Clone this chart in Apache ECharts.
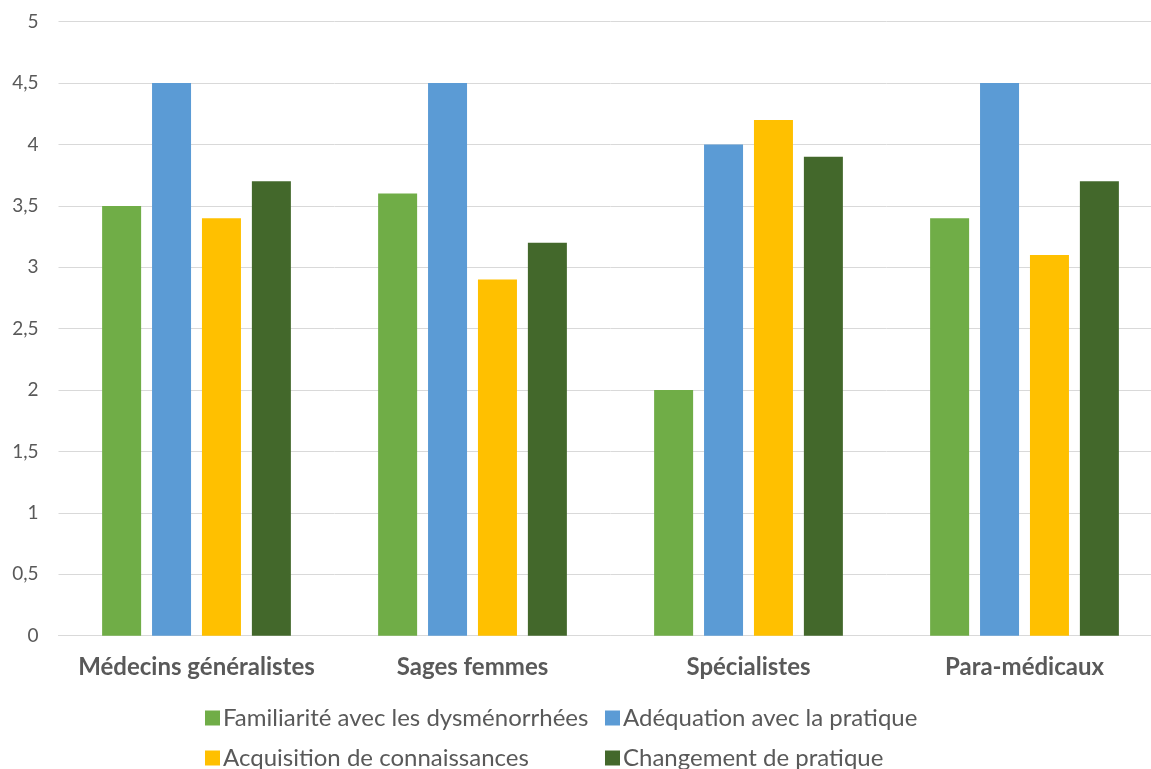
<!DOCTYPE html>
<html>
<head>
<meta charset="utf-8">
<script src="https://cdn.jsdelivr.net/npm/echarts@6/dist/echarts.min.js"></script>
<style>
  html, body { margin: 0; padding: 0; background: #fff; overflow: hidden; }
  /* the original plot runs past the right edge, so the canvas is a bit wider than the window */
  #chart { width: 1164px; height: 769px; }
</style>
</head>
<body>
<div id="chart"></div>
<script>
// data
const categories = ['Médecins généralistes', 'Sages femmes', 'Spécialistes', 'Para-médicaux']
const seriesNames = [
  'Familiarité avec les dysménorrhées',
  'Adéquation avec la pratique',
  'Acquisition de connaissances',
  'Changement de pratique'
]
const familiarite = [3.5, 3.6, 2.0, 3.4]
const adequation = [4.5, 4.5, 4.0, 4.5]
const acquisition = [3.4, 2.9, 4.2, 3.1]
const changement = [3.7, 3.2, 3.9, 3.7]
const colors = ['#70AD47', '#5B9BD5', '#FFC000', '#43682B']

const font = 'Lato, "Open Sans", sans-serif'
const txt = '#595959'

let chart = echarts.init(document.getElementById('chart'))
let values = [familiarite, adequation, acquisition, changement]
// one legend per item so they line up in two columns like the original
let legendPos = [[200, 701], [600, 701], [200, 741], [600, 741]]

chart.setOption({
  animation: false,
  color: colors,
  textStyle: { fontFamily: font },
  grid: { left: 58.5, top: 21.7, right: 1.5, bottom: 133.3, containLabel: false },
  legend: seriesNames.map((n, i) => ({
    data: [n],
    left: legendPos[i][0],
    top: legendPos[i][1],
    icon: 'rect',
    itemWidth: 15,
    itemHeight: 15,
    itemGap: 6,
    textStyle: { color: txt, fontSize: 24, fontFamily: font, padding: [0, 0, 0, -2] }
  })),
  xAxis: {
    type: 'category',
    data: categories,
    axisTick: { show: false },
    axisLine: { lineStyle: { color: '#d9d9d9', width: 1 } },
    axisLabel: { color: txt, fontSize: 24, fontWeight: 'bold', margin: 20, interval: 0, fontFamily: font }
  },
  yAxis: {
    type: 'value',
    min: 0,
    max: 5,
    interval: 0.5,
    axisLine: { show: false },
    axisTick: { show: false },
    splitLine: { lineStyle: { color: '#d9d9d9', width: 1 } },
    axisLabel: {
      color: txt,
      fontSize: 19,
      margin: 20,
      fontFamily: font,
      formatter: v => String(v).replace('.', ',')
    }
  },
  series: seriesNames.map((n, i) => ({
    name: n,
    type: 'bar',
    data: values[i],
    barWidth: 39,
    barGap: '28%'
  }))
})
</script>
</body>
</html>
